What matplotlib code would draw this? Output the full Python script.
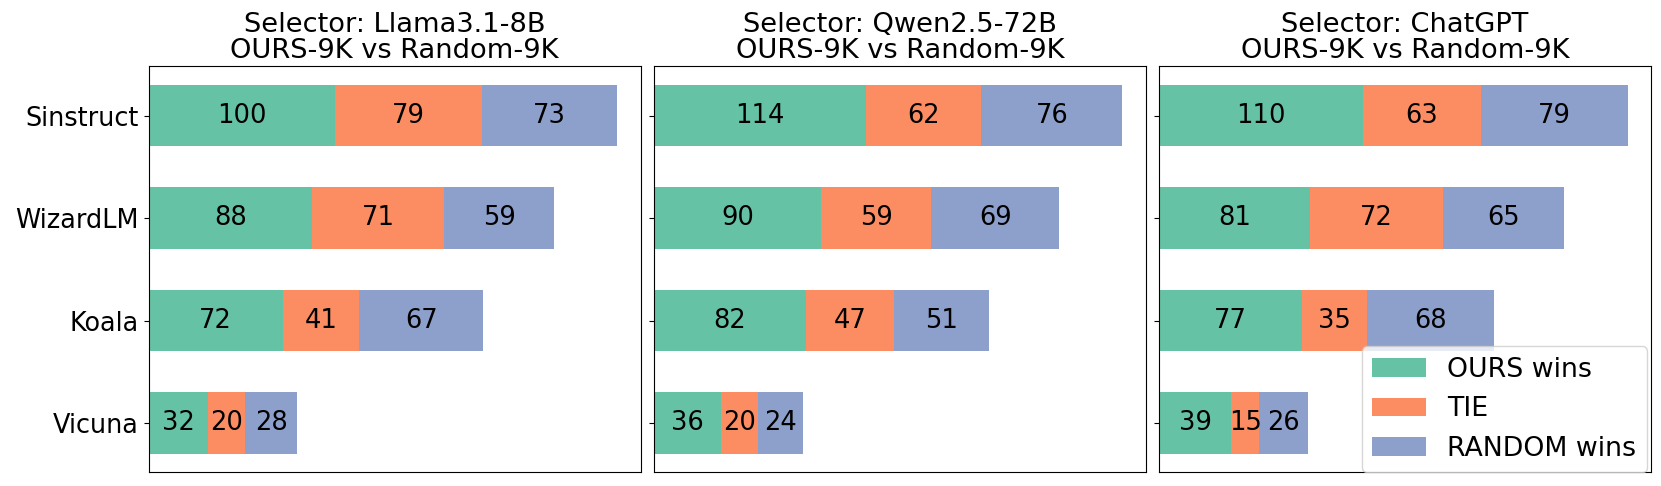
import matplotlib
matplotlib.use("Agg")
from matplotlib import pyplot as plt
import numpy as np

datasets = ["Sinstruct", "WizardLM", "Koala", "Vicuna"]
selectors = ["Llama3.1-8B", "Qwen2.5-72B", "ChatGPT"]

# wins / ties / losses per selector, rows in dataset order
ours_wins = [[100, 88, 72, 32], [114, 90, 82, 36], [110, 81, 77, 39]]
ties = [[79, 71, 41, 20], [62, 59, 47, 20], [63, 72, 35, 15]]
random_wins = [[73, 59, 67, 28], [76, 69, 51, 24], [79, 65, 68, 26]]

colors = ["#66c2a5", "#fc8d62", "#8da0cb"]
labels = ["OURS wins", "TIE", "RANDOM wins"]

plt.rcParams["font.size"] = 18.5

fig, axes = plt.subplots(1, 3, figsize=(16.61, 4.86), dpi=100, sharey=True)
plt.subplots_adjust(left=0.0895, right=0.994, top=0.8636, bottom=0.028, wspace=0.0264)

y = np.arange(len(datasets))
for i, ax in enumerate(axes):
    left = np.zeros(len(datasets))
    for vals, c, lab in zip([ours_wins[i], ties[i], random_wins[i]], colors, labels):
        vals = np.array(vals)
        bars = ax.barh(y, vals, left=left, height=0.6, color=c, label=lab)
        ax.bar_label(bars, labels=[str(v) for v in vals], label_type="center", fontsize=18.5)
        left += vals
    ax.set_xlim(0, left.max() * 1.05)
    ax.set_xticks([])
    ax.set_title(f"Selector: {selectors[i]}\nOURS-9K vs Random-9K", fontsize=19.6, linespacing=1.0)

axes[0].set_yticks(y)
axes[0].set_yticklabels(datasets, fontsize=18.4)
axes[0].invert_yaxis()
axes[2].legend(loc="lower right", bbox_to_anchor=(0.992, 0.0), borderaxespad=0, fontsize=19.3)

plt.savefig("out.png", dpi=100)
